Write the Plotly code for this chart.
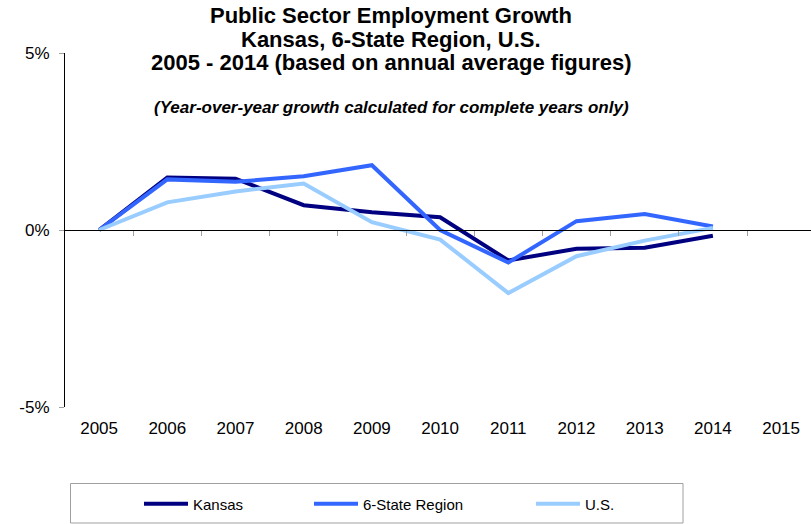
import plotly.graph_objects as go

# ---- data ----
years = [2005, 2006, 2007, 2008, 2009, 2010, 2011, 2012, 2013, 2014]
axis_years = [2005, 2006, 2007, 2008, 2009, 2010, 2011, 2012, 2013, 2014, 2015]
kansas = [0.0, 1.48, 1.45, 0.70, 0.50, 0.36, -0.86, -0.53, -0.50, -0.16]
region = [0.0, 1.43, 1.36, 1.52, 1.83, 0.00, -0.92, 0.25, 0.45, 0.10]
us = [0.0, 0.78, 1.09, 1.31, 0.22, -0.27, -1.78, -0.74, -0.30, 0.06]
y_ticks = [-5, 0, 5]
y_ticktext = ["-5%", "0%", "5%"]

# ---- layout geometry (pixels) ----
W, H = 811, 524
L, R, T, B = 65, 811, 53, 407
step = 68.2  # px per category

def px_x(px):
    return (px - L) / (R - L)

def px_y(py):
    return (B - py) / (B - T)

xrange = [axis_years[0] - 0.5, axis_years[0] - 0.5 + (R - L) / step]
boundaries = [y + 0.5 for y in axis_years]

FONT = "Arial, Liberation Sans, sans-serif"
ITEMW = 44

fig = go.Figure()
fig.add_trace(go.Scatter(x=years, y=kansas, name="Kansas", mode="lines",
                         line=dict(color="#000080", width=4), legend="legend"))
fig.add_trace(go.Scatter(x=years, y=region, name="6-State Region", mode="lines",
                         line=dict(color="#3366FF", width=4), legend="legend2"))
fig.add_trace(go.Scatter(x=years, y=us, name="U.S.", mode="lines",
                         line=dict(color="#99CCFF", width=4), legend="legend3"))
# helper trace so the zero-line axis is drawn
fig.add_trace(go.Scatter(x=[], y=[], xaxis="x2", yaxis="y", showlegend=False,
                         hoverinfo="skip"))

legend_common = dict(orientation="h", xref="container", yref="container",
                     xanchor="left", yanchor="middle", y=1 - 504 / H,
                     bgcolor="rgba(0,0,0,0)", borderwidth=0, itemwidth=ITEMW,
                     font=dict(family=FONT, size=15, color="black"))
text_gap = ITEMW + 10

fig.update_layout(
    width=W, height=H,
    margin=dict(l=L, r=W - R, t=T, b=H - B),
    paper_bgcolor="white", plot_bgcolor="white",
    font=dict(family=FONT, color="black"),
    xaxis=dict(range=xrange, tickmode="array", tickvals=axis_years,
               ticktext=[str(y) for y in axis_years], showline=False,
               ticks="", showgrid=False, zeroline=False, ticklabelstandoff=9,
               tickfont=dict(size=17, family=FONT, color="black")),
    xaxis2=dict(range=xrange, overlaying="x", anchor="free", position=0.5,
                side="bottom", showline=True, linecolor="black", linewidth=1,
                ticks="outside", ticklen=5, tickcolor="#A0A0A0", tickwidth=1,
                tickmode="array", tickvals=boundaries, showticklabels=False,
                showgrid=False, zeroline=False),
    yaxis=dict(range=[-5, 5], tickmode="array", tickvals=y_ticks,
               ticktext=y_ticktext, showline=True, linecolor="black",
               linewidth=1, ticks="outside", ticklen=5, tickcolor="#A0A0A0",
               showgrid=False, zeroline=False, ticklabelstandoff=6,
               tickfont=dict(size=17, family=FONT, color="black")),
    legend=dict(legend_common, x=(193 - text_gap) / W),
    legend2=dict(legend_common, x=(363 - text_gap) / W),
    legend3=dict(legend_common, x=(585 - text_gap) / W),
    showlegend=True,
)

title_lines = [
    ("Public Sector Employment Growth", 15),
    ("Kansas, 6-State Region, U.S.", 39.5),
    ("2005 - 2014 (based on annual average figures)", 63),
]
for text, cy in title_lines:
    fig.add_annotation(text="<b>" + text + "</b>", x=px_x(391), y=px_y(cy),
                       xref="paper", yref="paper", xanchor="center",
                       yanchor="middle", showarrow=False,
                       font=dict(family=FONT, size=22, color="black"))
fig.add_annotation(text="<b><i>(Year-over-year growth calculated for complete years only)</i></b>",
                   x=px_x(391), y=px_y(107), xref="paper", yref="paper",
                   xanchor="center", yanchor="middle", showarrow=False,
                   font=dict(family=FONT, size=17, color="black"))

# legend frame
fig.add_shape(type="rect", xref="paper", yref="paper",
              x0=px_x(70.5), x1=px_x(683), y0=px_y(483.5), y1=px_y(523),
              line=dict(color="#A0A0A0", width=1), fillcolor="rgba(0,0,0,0)",
              layer="above")

fig.write_html("out.html")
